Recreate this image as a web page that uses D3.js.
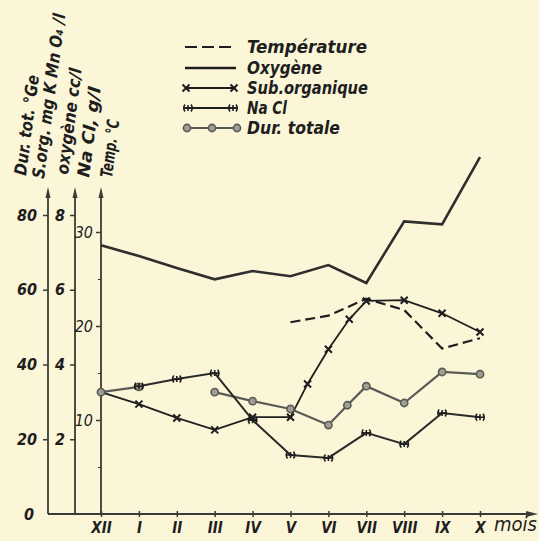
<!DOCTYPE html>
<html>
<head>
<meta charset="utf-8">
<script src="https://cdn.jsdelivr.net/npm/d3@7"></script>
<style>
body { margin: 0; background: #fbf6d8; }
svg { display: block; }
text { font-family: "Liberation Sans Narrow", "DejaVu Sans Condensed", sans-serif; font-style: italic; fill: #1e1e1e; }
</style>
</head>
<body>
<svg id="chart" width="539" height="541"></svg>
<script>
// months on the x axis, index 0 = XII
var months = ["XII", "I", "II", "III", "IV", "V", "VI", "VII", "VIII", "IX", "X"];

// [month index, value]; half-month points where the curve has them
var temperature = [[5, 20.4], [6, 21.1], [7, 22.9], [8, 21.7], [9, 17.6], [10, 18.7]];
var oxygene = [[0, 7.19], [1, 6.90], [2, 6.58], [3, 6.28], [4, 6.50], [5, 6.36], [6, 6.66], [7, 6.18], [8, 7.83], [9, 7.75], [10, 9.55]];
var subOrganique = [[0, 3.26], [1, 2.94], [2, 2.57], [3, 2.25], [4, 2.59], [5, 2.59], [5.45, 3.48], [6, 4.41], [6.55, 5.21], [7, 5.70], [8, 5.72], [9, 5.37], [10, 4.87]];
var naCl = [[1, 3.42], [2, 3.61], [3, 3.77], [4, 2.51], [5, 1.58], [6, 1.50], [7, 2.17], [8, 1.87], [9, 2.70], [10, 2.59]];
var durTotale = [[0, 32.6], [1, 34.0], [2, null], [3, 32.6], [4, 30.2], [5, 28.1], [6, 23.8], [6.5, 29.1], [7, 34.2], [8, 29.7], [9, 38.0], [10, 37.4]];

var durTicks = [0, 20, 40, 60, 80];
var ax2Ticks = [2, 4, 6, 8];
var tempTicks = [10, 20, 30];
var tempMinor = [5, 15, 25];

var axisTitles = ["Dur. tot. °Ge", "S.org. mg K Mn O₄ /l", "oxygène cc/l", "Na Cl, g/l", "Temp. °C"];
var legendNames = ["Température", "Oxygène", "Sub.organique", "Na Cl", "Dur. totale"];

var svg = d3.select("#chart");
var ink = "#1e1e1e", grey = "#5a5a55";

var x = d3.scaleLinear().domain([0, 10]).range([101, 480]);
var yDur = d3.scaleLinear().domain([0, 80]).range([514, 215]);
var yAx2 = d3.scaleLinear().domain([0, 8]).range([514, 215]);
var yTemp = d3.scaleLinear().domain([0, 30]).range([514, 232]);

var axisX = [48, 75, 101];

// vertical axes with arrow heads
axisX.forEach(function(ax) {
    svg.append("line").attr("x1", ax).attr("x2", ax).attr("y1", 514).attr("y2", 192)
        .attr("stroke", "#3a3a36").attr("stroke-width", 1.8);
    svg.append("path").attr("d", "M" + (ax - 2.5) + ",198 L" + ax + ",187 L" + (ax + 2.5) + ",198 Z")
        .attr("fill", "#3a3a36");
});

function styleAxis(g, bold) {
    g.select(".domain").remove();
    g.selectAll(".tick line").attr("stroke", "#3a3a36").attr("stroke-width", 1.5);
    g.selectAll(".tick text").attr("font-size", 16).attr("font-weight", bold ? "bold" : "normal")
        .attr("fill", ink).style("font-family", null);
}

var g1 = svg.append("g").attr("transform", "translate(" + axisX[0] + ",0)")
    .call(d3.axisLeft(yDur).tickValues(durTicks).tickSize(5).tickPadding(6));
styleAxis(g1, true);
g1.selectAll(".tick").filter(function(d) { return d === 0; }).select("line").remove();
g1.selectAll(".tick").filter(function(d) { return d === 0; }).select("text").attr("x", -14);

var g2 = svg.append("g").attr("transform", "translate(" + axisX[1] + ",0)")
    .call(d3.axisLeft(yAx2).tickValues(ax2Ticks).tickSize(5).tickPadding(5));
styleAxis(g2, true);

var g3 = svg.append("g").attr("transform", "translate(" + axisX[2] + ",0)")
    .call(d3.axisLeft(yTemp).tickValues(tempTicks).tickSize(5).tickPadding(3));
styleAxis(g3, false);
svg.append("g").attr("transform", "translate(" + axisX[2] + ",0)")
    .call(d3.axisLeft(yTemp).tickValues(tempMinor).tickSize(3).tickFormat(""))
    .call(function(g) { g.select(".domain").remove(); g.selectAll("line").attr("stroke", "#3a3a36"); });

// x axis
svg.append("line").attr("x1", axisX[0]).attr("x2", 530).attr("y1", 514).attr("y2", 514)
    .attr("stroke", "#3a3a36").attr("stroke-width", 1.8);
svg.append("path").attr("d", "M526,511 L538,514 L526,517 Z").attr("fill", "#3a3a36");

var gx = svg.append("g").attr("transform", "translate(0,514)")
    .call(d3.axisBottom(x).tickValues(d3.range(months.length)).tickSize(3)
        .tickFormat(function(i) { return months[i]; }).tickPadding(5));
gx.select(".domain").remove();
gx.selectAll(".tick line").attr("stroke", "#3a3a36").attr("stroke-width", 1.5).attr("y1", -3);
gx.selectAll(".tick text").attr("font-size", 15).attr("font-weight", "bold").attr("fill", ink)
    .style("font-family", null);
svg.append("text").attr("x", 494).attr("y", 531).attr("font-size", 19)
    .attr("textLength", 43).attr("lengthAdjust", "spacingAndGlyphs").text("mois");

// axis titles, slightly tilted as in the print
var titlePos = [[26, 176, 101], [44, 179, 166], [68, 175, 107], [89, 178, 91], [112, 178, 58]];
axisTitles.forEach(function(t, i) {
    var p = titlePos[i];
    svg.append("text")
        .attr("transform", "translate(" + p[0] + "," + p[1] + ") rotate(-82.6)")
        .attr("font-size", 17).attr("font-weight", "bold")
        .attr("textLength", p[2]).attr("lengthAdjust", "spacingAndGlyphs")
        .text(t);
});

// series
function lineFor(yScale) {
    return d3.line()
        .defined(function(d) { return d[1] !== null; })
        .x(function(d) { return x(d[0]); })
        .y(function(d) { return yScale(d[1]); });
}

svg.append("path").datum(oxygene).attr("d", lineFor(yAx2))
    .attr("fill", "none").attr("stroke", "#2e2e2c").attr("stroke-width", 2.6);

svg.append("path").datum(temperature).attr("d", lineFor(yTemp))
    .attr("fill", "none").attr("stroke", ink).attr("stroke-width", 2.2).attr("stroke-dasharray", "10,5");

svg.append("path").datum(durTotale).attr("d", lineFor(yDur))
    .attr("fill", "none").attr("stroke", grey).attr("stroke-width", 2.2);

svg.append("path").datum(naCl).attr("d", lineFor(yAx2))
    .attr("fill", "none").attr("stroke", "#2a2a28").attr("stroke-width", 2);

svg.append("path").datum(subOrganique).attr("d", lineFor(yAx2))
    .attr("fill", "none").attr("stroke", ink).attr("stroke-width", 1.8);

function crossMark(sel) {
    sel.append("path").attr("d", "M-3.5,-3.5 L3.5,3.5 M-3.5,3.5 L3.5,-3.5")
        .attr("stroke", ink).attr("stroke-width", 2).attr("fill", "none");
}
function naclMark(sel) {
    sel.append("path").attr("d", "M-3,-3.5 Q-5.5,0 -3,3.5 M3,-3.5 Q5.5,0 3,3.5 M0,-3 V3 M-4,0 H4")
        .attr("stroke", ink).attr("stroke-width", 1.6).attr("fill", "none");
}
function circleMark(sel) {
    sel.append("circle").attr("r", 3.6).attr("fill", "#a09f96").attr("stroke", grey).attr("stroke-width", 1.6);
}

svg.selectAll(".dur").data(durTotale.filter(function(d) { return d[1] !== null; })).enter()
    .append("g").attr("transform", function(d) { return "translate(" + x(d[0]) + "," + yDur(d[1]) + ")"; })
    .call(circleMark);
svg.selectAll(".nacl").data(naCl).enter()
    .append("g").attr("transform", function(d) { return "translate(" + x(d[0]) + "," + yAx2(d[1]) + ")"; })
    .call(naclMark);
svg.selectAll(".sorg").data(subOrganique.slice(1)).enter()
    .append("g").attr("transform", function(d) { return "translate(" + x(d[0]) + "," + yAx2(d[1]) + ")"; })
    .call(crossMark);

// legend
var legendY = [47, 68, 88, 108, 128];
var legendW = [120, 75, 121, 40, 93];
var lg = svg.append("g");
legendNames.forEach(function(name, i) {
    var y = legendY[i];
    var l = lg.append("line").attr("x1", 185).attr("x2", 236).attr("y1", y).attr("y2", y)
        .attr("stroke", i === 4 ? grey : ink).attr("stroke-width", i === 1 ? 2.6 : 2);
    if (i === 0) l.attr("stroke-dasharray", "12,5");
    if (i === 2) [186, 234].forEach(function(px) { lg.append("g").attr("transform", "translate(" + px + "," + y + ")").call(crossMark); });
    if (i === 3) [188, 233].forEach(function(px) { lg.append("g").attr("transform", "translate(" + px + "," + y + ")").call(naclMark); });
    if (i === 4) [187, 212, 237].forEach(function(px) { lg.append("g").attr("transform", "translate(" + px + "," + y + ")").call(circleMark); });
    lg.append("text").attr("x", 247).attr("y", y + 6).attr("font-size", 17).attr("font-weight", "bold")
        .attr("textLength", legendW[i]).attr("lengthAdjust", "spacingAndGlyphs").text(name);
});
</script>
</body>
</html>
